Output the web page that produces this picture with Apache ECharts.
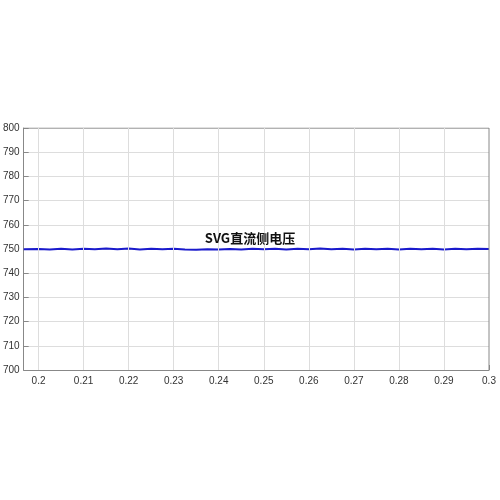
<!DOCTYPE html>
<html><head><meta charset="utf-8">
<script src="https://cdn.jsdelivr.net/npm/echarts@6/dist/echarts.min.js"></script>
<style>html,body{margin:0;background:#fff}#c{width:500px;height:500px}</style>
</head><body><div id="c"></div>
<script>
var xTicks = [0.2, 0.21, 0.22, 0.23, 0.24, 0.25, 0.26, 0.27, 0.28, 0.29, 0.3];
var timeData = [0.1967, 0.2, 0.2025, 0.205, 0.2075, 0.21, 0.2125, 0.215, 0.2175, 0.22, 0.2225, 0.225, 0.2275, 0.23, 0.2325, 0.235, 0.2375, 0.24, 0.2425, 0.245, 0.2475, 0.25, 0.2525, 0.255, 0.2575, 0.26, 0.2625, 0.265, 0.2675, 0.27, 0.2725, 0.275, 0.2775, 0.28, 0.2825, 0.285, 0.2875, 0.29, 0.2925, 0.295, 0.2975, 0.3];
var voltData = [749.9, 750.0, 749.8, 750.1, 749.8, 750.1, 749.9, 750.2, 749.9, 750.2, 749.8, 750.1, 749.9, 750.1, 749.8, 749.7, 749.9, 749.8, 750.0, 749.8, 750.1, 749.9, 750.1, 749.8, 750.1, 749.9, 750.2, 749.9, 750.1, 749.8, 750.1, 749.9, 750.1, 749.8, 750.1, 749.9, 750.1, 749.8, 750.1, 749.9, 750.1, 750.0];
var chart = echarts.init(document.getElementById('c'));
var lineData = timeData.map(function (t, i) { return [t, voltData[i]]; });
chart.setOption({
    animation: false,
    title: {
        text: 'SVG直流侧电压', left: 245, top: 227, textAlign: 'center',
        textStyle: { fontSize: 13, fontWeight: 'bold', color: '#111', fontFamily: 'Noto Sans CJK SC' }
    },
    grid: { left: 22, right: 11, top: 128, bottom: 130 },
    xAxis: {
        type: 'value', min: 0.1967, max: 0.3,
        axisLine: { onZero: false, lineStyle: { color: '#888' } },
        axisTick: { customValues: xTicks, inside: true, lineStyle: { color: '#888' } },
        axisLabel: { customValues: xTicks, color: '#333', fontSize: 10, margin: 6, formatter: function (v) { return String(+v.toFixed(2)); } },
        splitLine: { show: false }
    },
    yAxis: {
        type: 'value', min: 700, max: 800, interval: 10,
        axisLine: { show: true, lineStyle: { color: '#888' } },
        axisTick: { show: true, inside: true, lineStyle: { color: '#888' } },
        axisLabel: { color: '#333', fontSize: 10, margin: 4 },
        splitLine: { lineStyle: { color: '#ddd' } }
    },
    series: [{
        type: 'line', data: lineData, symbol: 'none',
        lineStyle: { color: '#1a1acc', width: 1.8 },
        markLine: {
            silent: true, symbol: 'none', label: { show: false },
            lineStyle: { color: '#ddd', type: 'solid', width: 1 },
            data: xTicks.slice(0, 10).map(function (v) { return { xAxis: v }; })
        }
    }, {
        type: 'line', data: [[0.3, 700], [0.3, 800], [0.1967, 800]], symbol: 'none',
        lineStyle: { color: '#888', width: 1 }
    }]
});
</script></body></html>
